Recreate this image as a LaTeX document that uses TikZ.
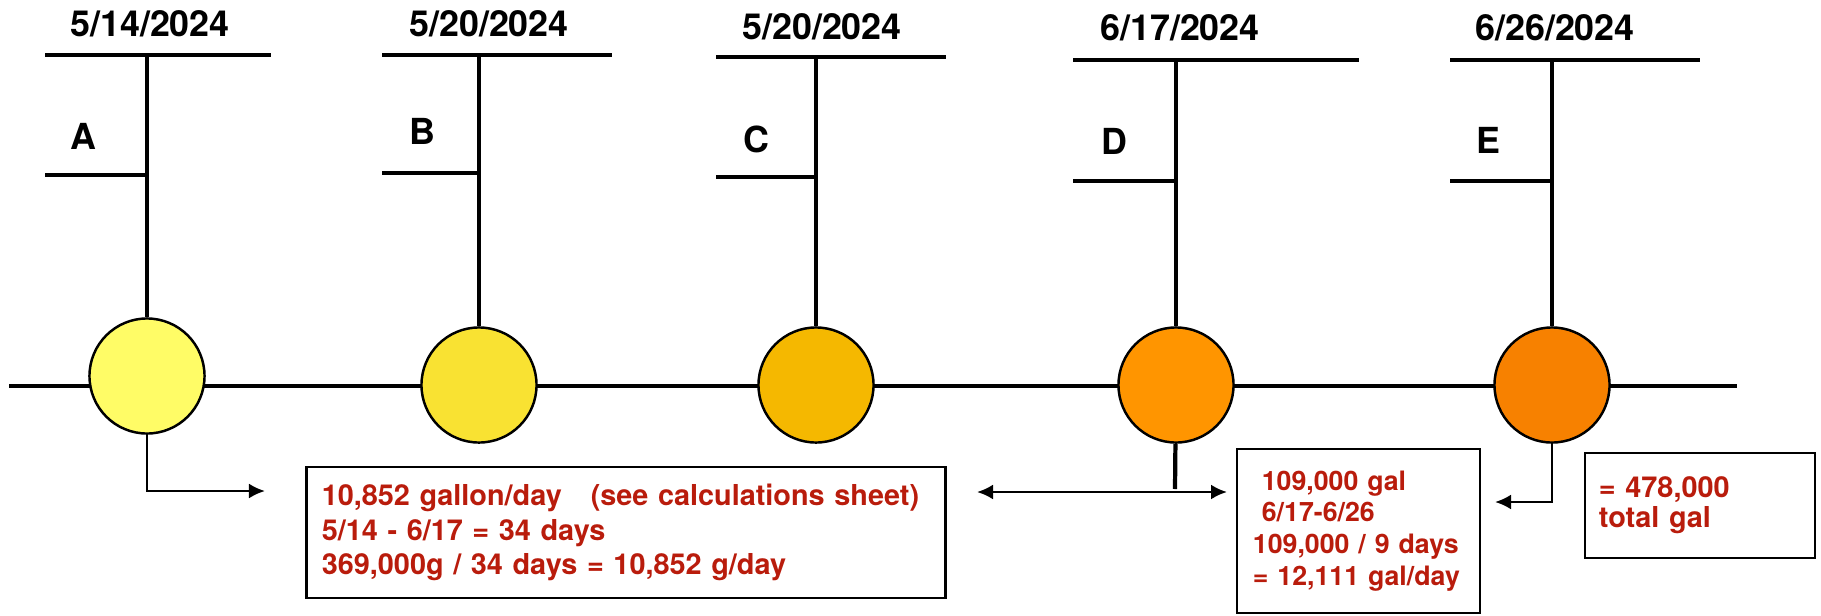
\documentclass[tikz,border=0pt]{standalone}
\usepackage{fontspec}
\setmainfont{TeX Gyre Heros}
\usetikzlibrary{arrows.meta,backgrounds,calc}
\pgfdeclarelayer{background}
\pgfsetlayers{background,main}
\definecolor{calcred}{RGB}{185,28,12}
\definecolor{fillA}{RGB}{255,252,102}
\definecolor{fillB}{RGB}{249,226,50}
\definecolor{fillC}{RGB}{245,184,0}
\definecolor{fillD}{RGB}{255,149,0}
\definecolor{fillE}{RGB}{247,129,0}

\begin{document}
\begin{tikzpicture}[x=0.01cm,y=-0.01cm,>={Latex[length=0.16cm,width=0.15cm]}]
\tikzstyle{stop}=[circle,draw,line width=0.7pt,minimum size=1.15cm,inner sep=0pt]
\tikzstyle{datelbl}=[font=\fontsize{10.2}{12}\selectfont\bfseries,inner sep=0pt,anchor=base]
\tikzstyle{letterlbl}=[datelbl]
\tikzstyle{bar}=[line width=1.2pt]
\tikzstyle{link}=[line width=0.75pt]
\tikzstyle{calcbox}=[draw,line width=0.8pt,text=calcred,align=left,inner ysep=0pt,
  font=\fontsize{8.2}{9.8}\selectfont\bfseries]
\useasboundingbox (0,0) rectangle (1821,615);

\coordinate (start) at (9,386);
\coordinate (stop)  at (1737,386);

\node[stop,fill=fillA] (A) at (147,376) {};
\node[stop,fill=fillB] (B) at (479,385) {};
\node[stop,fill=fillC] (C) at (816,385) {};
\node[stop,fill=fillD] (D) at (1176,385) {};
\node[stop,fill=fillE] (E) at (1552,385) {};

\begin{pgfonlayer}{background}
\draw[bar] (start) -- (stop);
\end{pgfonlayer}

\node[datelbl] (dateA) at (150,36) {5/14/2024};
\node[datelbl] (dateB) at (489,36) {5/20/2024};
\node[datelbl] (dateC) at (822,39) {5/20/2024};
\node[datelbl] (dateD) at (1180,41) {6/17/2024};
\node[datelbl] (dateE) at (1555,41) {6/26/2024};

\node[letterlbl] (labA) at (83,149) {A};
\node[letterlbl] (labB) at (422,144) {B};
\node[letterlbl] (labC) at (756,152) {C};
\node[letterlbl] (labD) at (1114,154) {D};
\node[letterlbl] (labE) at (1488,153) {E};

\draw[bar] (45,55) -- (271,55) (45,175) -- (147,175);
\draw[bar] (382,55) -- (612,55) (382,173) -- (479,173);
\draw[bar] (716,57) -- (946,57) (716,177) -- (816,177);
\draw[bar] (1073,60) -- (1359,60) (1073,181) -- (1176,181);
\draw[bar] (1450,60) -- (1700,60) (1450,181) -- (1552,181);

\draw[bar] (A) -- (147,55);
\draw[bar] (B) -- (479,55);
\draw[bar] (C) -- (816,57);
\draw[bar] (D) -- (1176,60);
\draw[bar] (E) -- (1552,60);

\node[calcbox,inner xsep=0.15cm,text width=6.08cm,minimum height=1.31cm] (box1) at (626,532.5)
  {10,852 gallon/day\ \ \ (see calculations sheet)\\5/14 - 6/17 = 34 days\\369,000g / 34 days = 10,852 g/day};
\node[calcbox,inner xsep=0.16cm,text width=2.11cm,minimum height=1.64cm,
  font=\fontsize{7.6}{9}\selectfont\bfseries] (box2) at (1358.5,531)
  {\ 109,000 gal\\\ 6/17-6/26\\109,000 / 9 days\\= 12,111 gal/day};
\node[calcbox,inner xsep=0.14cm,text width=2.02cm,minimum height=1.05cm,
  font=\fontsize{8.2}{8.6}\selectfont\bfseries] (box3) at (1700,505.5)
  {= 478,000\\total gal};

\coordinate (tipA) at (265,491);
\coordinate (tipL) at (977,492);
\coordinate (tipR) at (1227,492);
\coordinate (footD) at (1175,489);
\coordinate (tipE) at (1495,502);

\draw[link,->] (A) |- (tipA);
\draw[link,<->] (tipL) -- (tipR);
\draw[bar] (D) -- (footD);
\draw[link,->] (E) |- (tipE);
\end{tikzpicture}
\end{document}
